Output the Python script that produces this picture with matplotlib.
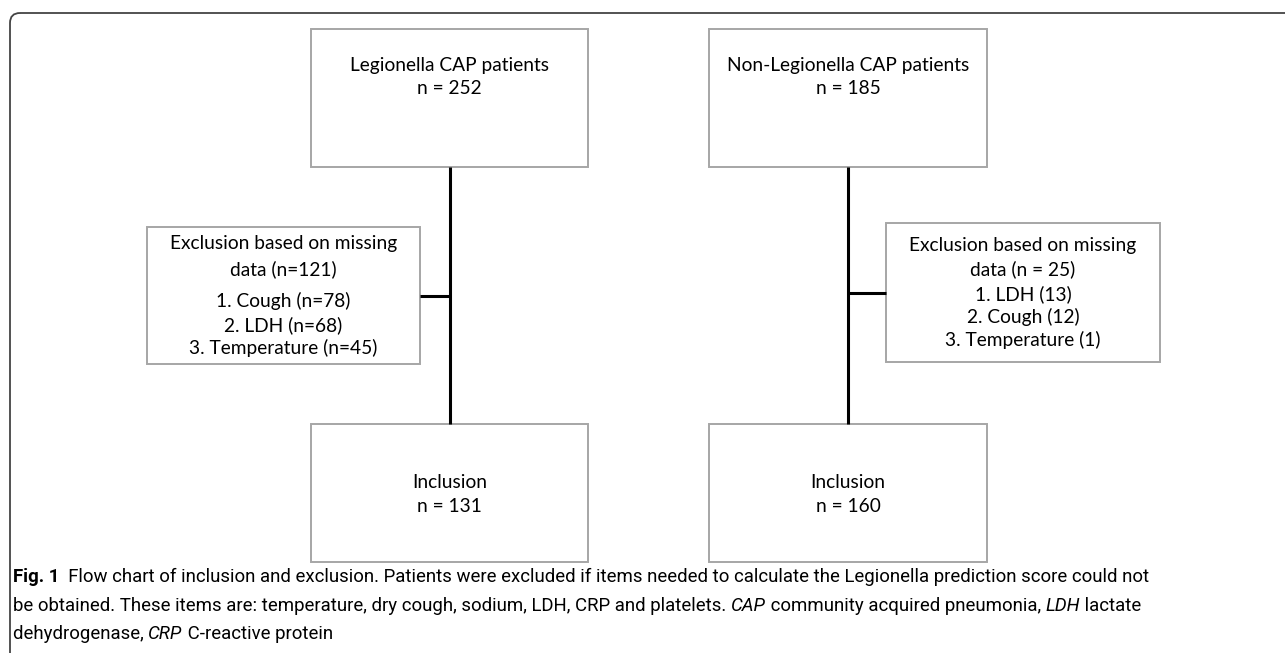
import matplotlib
matplotlib.use("Agg")
import matplotlib.pyplot as plt
from matplotlib.patches import Rectangle, FancyBboxPatch
from matplotlib import font_manager

# ---- content ----
top_titles = [["Legionella CAP patients", "n = 252"], ["Non-Legionella CAP patients", "n = 185"]]
excl_left_head = ["Exclusion based on missing", "data (n=121)"]
excl_left_items = ["1. Cough (n=78)", "2. LDH (n=68)", "3. Temperature (n=45)"]
excl_right_head = ["Exclusion based on missing", "data (n = 25)"]
excl_right_items = ["1. LDH (13)", "2. Cough (12)", "3. Temperature (1)"]
incl_titles = [["Inclusion", "n = 131"], ["Inclusion", "n = 160"]]
caption_lines = [
    [("Fig. 1", "normal", "bold"), ("  Flow chart of inclusion and exclusion. Patients were excluded if items needed to calculate the Legionella prediction score could not", "normal", "normal")],
    [("be obtained. These items are: temperature, dry cough, sodium, LDH, CRP and platelets. ", "normal", "normal"),
     ("CAP", "italic", "normal"), (" community acquired pneumonia, ", "normal", "normal"),
     ("LDH", "italic", "normal"), (" lactate", "normal", "normal")],
    [("dehydrogenase, ", "normal", "normal"), ("CRP", "italic", "normal"), (" C-reactive protein", "normal", "normal")],
]

W, H = 1285, 653
fig = plt.figure(figsize=(W / 100, H / 100), dpi=100)
ax = fig.add_axes([0, 0, 1, 1])
ax.set_xlim(0, W)
ax.set_ylim(H, 0)
ax.axis("off")

avail = {f.name for f in font_manager.fontManager.ttflist}
box_font = "Lato" if "Lato" in avail else "DejaVu Sans"
cap_font = "Liberation Sans Narrow" if "Liberation Sans Narrow" in avail else (
    "Roboto" if "Roboto" in avail else "DejaVu Sans")

# outer frame
frame = FancyBboxPatch((10, 13), 1400, 800, boxstyle="round,pad=0,rounding_size=10",
                       fill=False, edgecolor="#444444", linewidth=1.3)
ax.add_patch(frame)

edge = "#a6a6a6"
fs = 13.8

def box(x0, y0, x1, y1):
    ax.add_patch(Rectangle((x0, y0), x1 - x0, y1 - y0, fill=False, edgecolor=edge, linewidth=1.4))

def lines(xc, ys, texts):
    for y, t in zip(ys, texts):
        ax.text(xc, y, t, ha="center", va="center", fontsize=fs, family=box_font)

cols = [(311, 588), (709, 987)]
for (x0, x1), t in zip(cols, top_titles):
    box(x0, 29, x1, 167)
    lines((x0 + x1) / 2, [65, 88], t)
for (x0, x1), t in zip(cols, incl_titles):
    box(x0, 424, x1, 562)
    lines((x0 + x1) / 2, [482, 506], t)

# connector lines
lw = 2.2
for (x0, x1) in cols:
    xc = (x0 + x1) / 2
    ax.plot([xc, xc], [167, 424], color="black", linewidth=lw, solid_capstyle="butt")

# left exclusion box
box(147, 227, 420, 364)
lines(283.5, [244, 269], excl_left_head)
lines(283.5, [301, 325, 348], excl_left_items)
ax.plot([420, 449.5], [296, 296], color="black", linewidth=lw, solid_capstyle="butt")

# right exclusion box
box(886, 223, 1160, 362)
lines(1023, [246, 269], excl_right_head)
lines(1023, [294, 317, 340], excl_right_items)
ax.plot([848, 886], [293, 293], color="black", linewidth=lw, solid_capstyle="butt")

# caption, segment by segment
cap_fs = 13.4
fig.canvas.draw()
renderer = fig.canvas.get_renderer()
inv = ax.transData.inverted()
for y, segs in zip([577, 606, 634], caption_lines):
    x = 13
    for txt, style, weight in segs:
        t = ax.text(x, y, txt, ha="left", va="center", fontsize=cap_fs, family=cap_font,
                    fontstyle=style, fontweight=weight)
        bb = t.get_window_extent(renderer=renderer)
        x = inv.transform((bb.x1, bb.y0))[0]

fig.savefig("out.png", dpi=100)
